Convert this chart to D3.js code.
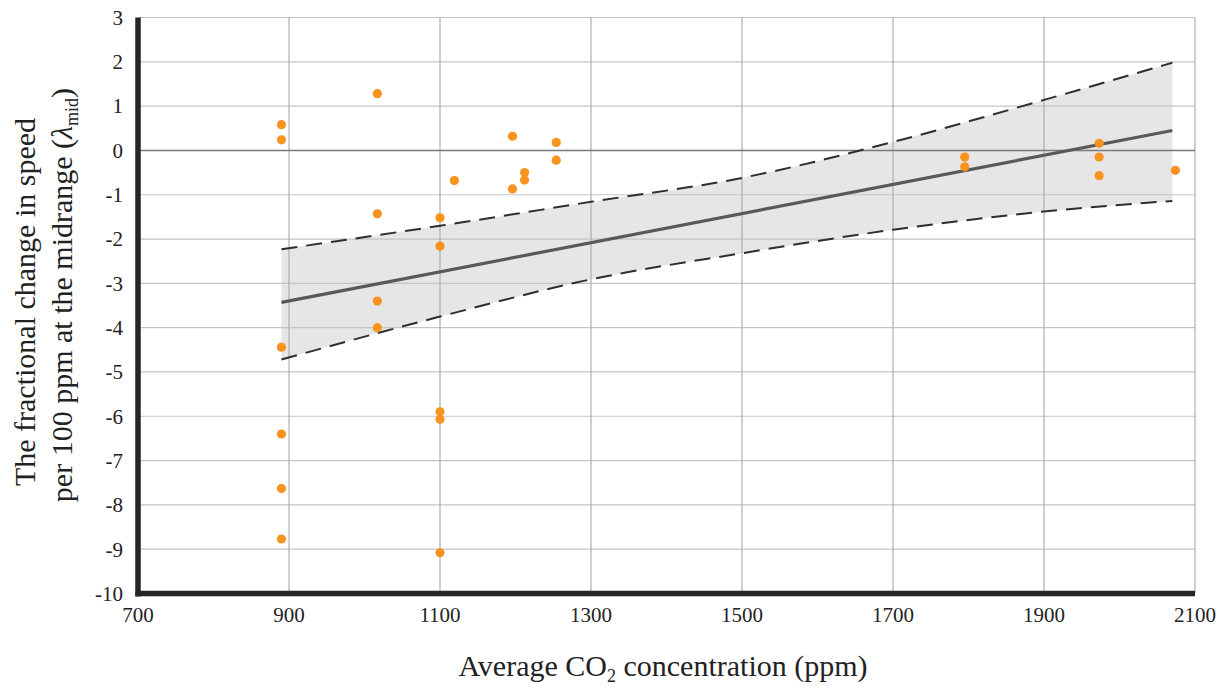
<!DOCTYPE html>
<html><head><meta charset="utf-8">
<script src="https://cdn.jsdelivr.net/npm/d3@7"></script>
<style>body{margin:0;background:#fff;} svg{display:block;font-family:"Liberation Serif","Times New Roman",serif;}</style>
</head><body>
<svg id="c" width="1232" height="691"></svg>
<script>
// Data
const pointsX = [890,890,890,890,890,890, 1017,1017,1017,1017, 1100,1100,1100,1100,1100, 1119, 1196,1196, 1212,1212, 1254,1254, 1795,1795, 1973,1973,1973, 2074];
const pointsY = [0.58,0.24,-4.44,-6.40,-7.63,-8.77, 1.28,-1.43,-3.40,-4.00, -1.52,-2.16,-5.90,-6.07,-9.08, -0.68, 0.32,-0.87, -0.50,-0.67, 0.18,-0.22, -0.15,-0.37, 0.16,-0.15,-0.57, -0.45];
const bandX = [890, 1100, 1300, 1500, 1700, 1900, 2070];
const bandUpper = [-2.23, -1.70, -1.16, -0.62, 0.19, 1.14, 1.98];
const bandLower = [-4.72, -3.75, -2.91, -2.32, -1.79, -1.38, -1.14];
const fitX = [890, 2070];
const fitY = [-3.43, 0.45];
const xTicks = [700,900,1100,1300,1500,1700,1900,2100];
const yTicks = [3,2,1,0,-1,-2,-3,-4,-5,-6,-7,-8,-9,-10];

const svg = d3.select("#c");
const x = d3.scaleLinear().domain([700,2100]).range([138,1195]);
const y = d3.scaleLinear().domain([-10,3]).range([593.5,17.5]);

// band
const band = bandX.map((v,i)=>({x:v,u:bandUpper[i],l:bandLower[i]}));
svg.append("path").datum(band)
  .attr("d", d3.area().x(d=>x(d.x)).y0(d=>y(d.l)).y1(d=>y(d.u)).curve(d3.curveMonotoneX))
  .attr("fill","#e6e6e6");

// grid
svg.append("g").selectAll("line").data(yTicks.filter(t=>t!==0 && t!==-10)).join("line")
  .attr("x1",x(700)).attr("x2",x(2100)).attr("y1",d=>y(d)).attr("y2",d=>y(d))
  .attr("stroke","#c4c4c4").attr("stroke-width",1.2);
svg.append("g").selectAll("line").data(xTicks.filter(t=>t!==700)).join("line")
  .attr("x1",d=>x(d)).attr("x2",d=>x(d)).attr("y1",y(3)).attr("y2",y(-10))
  .attr("stroke","#adadad").attr("stroke-width",1.2);
svg.append("line").attr("x1",x(700)).attr("x2",x(2100)).attr("y1",y(0)).attr("y2",y(0))
  .attr("stroke","#7a7a7a").attr("stroke-width",1.5);

// dashed bounds
svg.append("path").datum(band)
  .attr("d", d3.line().x(d=>x(d.x)).y(d=>y(d.u)).curve(d3.curveMonotoneX))
  .attr("fill","none").attr("stroke","#2e2e2e").attr("stroke-width",2).attr("stroke-dasharray","16,9");
svg.append("path").datum(band)
  .attr("d", d3.line().x(d=>x(d.x)).y(d=>y(d.l)).curve(d3.curveMonotoneX))
  .attr("fill","none").attr("stroke","#2e2e2e").attr("stroke-width",2).attr("stroke-dasharray","16,9");

// fit line
svg.append("path").datum(fitX.map((v,i)=>[v,fitY[i]]))
  .attr("d", d3.line().x(d=>x(d[0])).y(d=>y(d[1])))
  .attr("fill","none").attr("stroke","#595959").attr("stroke-width",3.2);

// points
svg.append("g").selectAll("circle").data(pointsX.map((v,i)=>[v,pointsY[i]])).join("circle")
  .attr("cx",d=>x(d[0])).attr("cy",d=>y(d[1])).attr("r",4.6).attr("fill","#f7931e");

// axes (thick)
svg.append("line").attr("x1",x(700)).attr("x2",x(700)).attr("y1",y(3)).attr("y2",y(-10)+3)
  .attr("stroke","#262626").attr("stroke-width",5.5);
svg.append("line").attr("x1",x(700)-2.5).attr("x2",x(2100)).attr("y1",y(-10)).attr("y2",y(-10))
  .attr("stroke","#262626").attr("stroke-width",5.5);

// tick labels
svg.append("g").selectAll("text").data(yTicks).join("text")
  .attr("x",123).attr("y",d=>y(d)).attr("dy","0.35em").attr("text-anchor","end")
  .attr("font-size",21).attr("fill","#222").text(d=>d);
svg.append("g").selectAll("text").data(xTicks).join("text")
  .attr("x",d=>x(d)).attr("y",622).attr("text-anchor","middle")
  .attr("font-size",21).attr("fill","#222").text(d=>d);

// x title
const xt = svg.append("text").attr("x",663).attr("y",676).attr("text-anchor","middle")
  .attr("font-size",30).attr("fill","#222");
xt.append("tspan").text("Average CO");
xt.append("tspan").attr("font-size",18).attr("dy",6).text("2");
xt.append("tspan").attr("dy",-6).text(" concentration (ppm)");

// y title
const yt = svg.append("g").attr("transform","translate(0,300) rotate(-90)");
yt.append("text").attr("x",-2).attr("y",35).attr("text-anchor","middle").attr("font-size",30).attr("fill","#222")
  .text("The fractional change in speed");
const l2 = yt.append("text").attr("x",5).attr("y",72).attr("text-anchor","middle").attr("font-size",30).attr("fill","#222");
l2.append("tspan").text("per 100 ppm at the midrange (");
l2.append("tspan").attr("font-style","italic").text("λ");
l2.append("tspan").attr("font-size",18).attr("dy",6).text("mid");
l2.append("tspan").attr("dy",-6).text(")");
</script>
</body></html>
